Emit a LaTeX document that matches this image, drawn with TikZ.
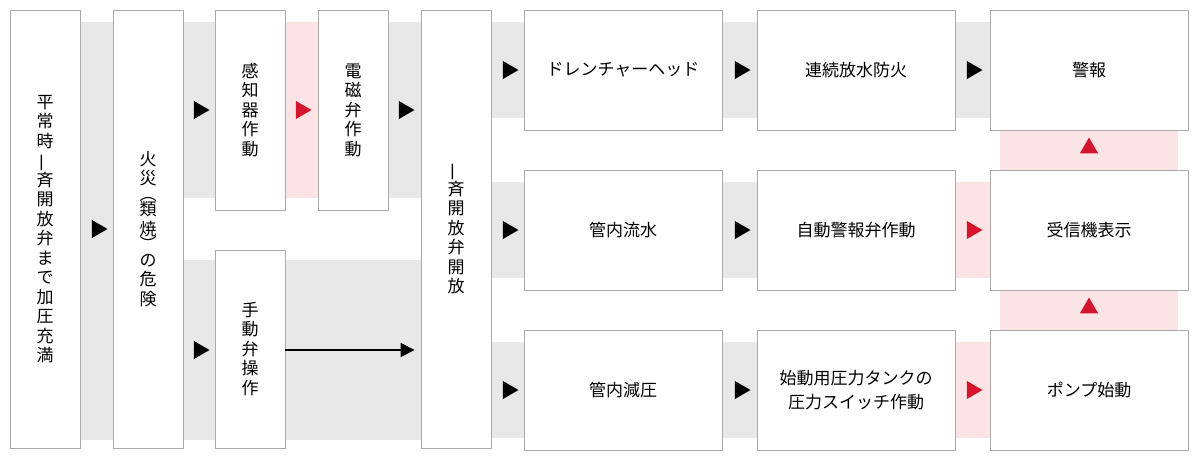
\documentclass[tikz,border=0pt]{standalone}
\usepackage{fontspec}
\newfontfamily\jp{Noto Sans CJK JP}
\usetikzlibrary{shapes.geometric,arrows.meta}
\definecolor{bandg}{HTML}{E8E8E8}
\definecolor{bandp}{HTML}{FBE3E6}
\definecolor{redt}{HTML}{D7142D}
\definecolor{edge}{HTML}{AAAAAA}
\tikzset{
 box/.style={draw=edge,fill=white,line width=0.8pt,inner sep=0pt,font=\jp\fontsize{17}{19.5}\selectfont,align=center},
 tri/.style={regular polygon,regular polygon sides=3,shape border rotate=-90,fill=black,inner sep=0pt,minimum size=21pt},
 trir/.style={tri,fill=redt},
 triu/.style={regular polygon,regular polygon sides=3,fill=redt,inner sep=0pt,minimum size=21pt},
}
\newcommand{\vb}{\rotatebox[origin=c]{90}{一}}
\begin{document}
\begin{tikzpicture}[x=1pt,y=-1pt]
\useasboundingbox (0,0) rectangle (1200,460);
\fill[white] (0,0) rectangle (1200,460);
% bands
\fill[bandg] (80,22) rectangle (113,440);
\fill[bandg] (183,22) rectangle (215,198);
\fill[bandp] (285,22) rectangle (318,198);
\fill[bandg] (388,22) rectangle (421,198);
\fill[bandg] (183,260) rectangle (421,440);
\foreach \y in {22,182,342}{\fill[bandg] (491,\y) rectangle (524,\y+96);}
\fill[bandg] (722,22) rectangle (757,118);
\fill[bandg] (955,22) rectangle (990,118);
\fill[bandg] (722,182) rectangle (757,278);
\fill[bandp] (955,182) rectangle (990,278);
\fill[bandg] (722,342) rectangle (757,438);
\fill[bandp] (955,342) rectangle (990,438);
\fill[bandp] (1000,130) rectangle (1178,170);
\fill[bandp] (1000,290) rectangle (1178,330);
% boxes
\node[box,minimum width=70pt,minimum height=438pt] (a) at (45,229) {平\\常\\時\\\vb\\斉\\開\\放\\弁\\ま\\で\\加\\圧\\充\\満};
\node[box,minimum width=70pt,minimum height=438pt] (b) at (148,229) {火\\災\\[-4pt]︵\\[-4pt]類\\焼\\[-4pt]︶\\[-4pt]の\\危\\険};
\node[box,minimum width=70pt,minimum height=200pt] (c) at (250,110) {感\\知\\器\\作\\動};
\node[box,minimum width=70pt,minimum height=200pt] (d) at (353,110) {電\\磁\\弁\\作\\動};
\node[box,minimum width=70pt,minimum height=198pt] (e) at (250,349) {手\\動\\弁\\操\\作};
\node[box,minimum width=70pt,minimum height=438pt] (f) at (456,229) {\vb\\斉\\開\\放\\弁\\開\\放};
\node[box,minimum width=198pt,minimum height=120pt] (g1) at (623,70) {ドレンチャーヘッド};
\node[box,minimum width=198pt,minimum height=120pt] (g2) at (856,70) {連続放水防火};
\node[box,minimum width=198pt,minimum height=120pt] (g3) at (1089,70) {警報};
\node[box,minimum width=198pt,minimum height=120pt] (h1) at (623,230) {管内流水};
\node[box,minimum width=198pt,minimum height=120pt] (h2) at (856,230) {自動警報弁作動};
\node[box,minimum width=198pt,minimum height=120pt] (h3) at (1089,230) {受信機表示};
\node[box,minimum width=198pt,minimum height=120pt] (k1) at (623,390) {管内減圧};
\node[box,minimum width=198pt,minimum height=120pt,font=\jp\fontsize{17}{24}\selectfont] (k2) at (856,390) {始動用圧力タンクの\\圧力スイッチ作動};
\node[box,minimum width=198pt,minimum height=120pt] (k3) at (1089,390) {ポンプ始動};
% arrows
\node[tri] at (97,229) {};
\node[tri] at (199,110) {};
\node[trir] at (301,110) {};
\node[tri] at (404,110) {};
\node[tri] at (199,350) {};
\foreach \y in {70,230,390}{\node[tri] at (508,\y) {};\node[tri] at (740,\y) {};}
\node[tri] at (972,70) {};
\node[trir] at (972,230) {};
\node[trir] at (972,390) {};
\node[triu] at (1089,148) {};
\node[triu] at (1089,308) {};
\draw[line width=1.2pt,-{Triangle[length=14pt,width=14pt]}] (e.east|-0,350) -- ([xshift=-6pt]f.west|-0,350);
\end{tikzpicture}
\end{document}
